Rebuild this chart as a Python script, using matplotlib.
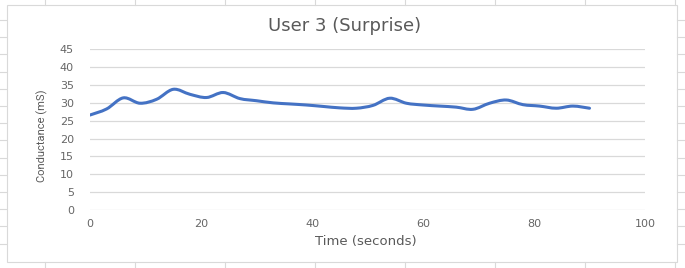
import matplotlib
matplotlib.use("Agg")
import matplotlib.pyplot as plt
from matplotlib.path import Path
from matplotlib.patches import PathPatch
from matplotlib.lines import Line2D
import numpy as np

# ---- data ----
time_s = [0, 3, 6, 9, 12, 15, 18, 21, 24, 27, 30, 33, 36, 39, 42, 45,
          48, 51, 54, 57, 60, 63, 66, 69, 72, 75, 78, 81, 84, 87, 90]
conductance = [26.6, 28.3, 31.4, 29.9, 31.0, 33.8, 32.4, 31.5, 32.9, 31.2,
               30.6, 30.0, 29.7, 29.4, 29.0, 28.6, 28.5, 29.3, 31.3, 29.9,
               29.4, 29.1, 28.8, 28.2, 29.9, 30.8, 29.5, 29.1, 28.5, 29.1, 28.5]
x_ticks = [0, 20, 40, 60, 80, 100]
y_ticks = [0, 5, 10, 15, 20, 25, 30, 35, 40, 45]
title = "User 3 (Surprise)"
x_label = "Time (seconds)"
y_label = "Conductance (mS)"

W, H = 685, 268
fig = plt.figure(figsize=(W / 100, H / 100), dpi=100)
fig.patch.set_facecolor("white")

# spreadsheet cell marks around the chart
cell_col = "#d9d9d9"
for xp in range(45, 685, 90):
    fig.add_artist(Line2D([xp / W, xp / W], [1, 1 - 5 / H], color=cell_col, lw=0.8))
    fig.add_artist(Line2D([xp / W, xp / W], [0, 6 / H], color=cell_col, lw=0.8))
for k in range(14):
    yp = 20 + 17.2 * k
    fig.add_artist(Line2D([0, 6 / W], [1 - yp / H, 1 - yp / H], color=cell_col, lw=0.8))
    fig.add_artist(Line2D([677 / W, 1], [1 - yp / H, 1 - yp / H], color=cell_col, lw=0.8))
# chart border
fig.add_artist(plt.Rectangle((6.5 / W, 1 - 262 / H), (677 - 6.5) / W, (262 - 5) / H,
                             fill=False, edgecolor="#d9d9d9", lw=0.8,
                             transform=fig.transFigure))

ax = fig.add_axes([90 / W, 1 - 210 / H, (645 - 90) / W, (210 - 49.3) / H])
ax.set_xlim(0, 100)
ax.set_ylim(0, 45)
ax.set_xticks(x_ticks)
ax.set_yticks(y_ticks)
for s in ax.spines.values():
    s.set_visible(False)
ax.yaxis.grid(True, color="#d9d9d9", lw=0.9)
ax.set_axisbelow(True)
ax.tick_params(length=0, labelsize=8, labelcolor="#666666")
ax.tick_params(axis="y", pad=11.5)
ax.tick_params(axis="x", pad=6.5)
for lab in ax.get_xticklabels() + ax.get_yticklabels():
    lab.set_family("DejaVu Sans")

# smoothed line (Catmull-Rom -> Bezier, as Excel's smoothed line)
x = np.array(time_s, float)
y = np.array(conductance, float)
n = len(x)
verts = [(x[0], y[0])]
codes = [Path.MOVETO]
for i in range(n - 1):
    p0 = np.array([x[max(i - 1, 0)], y[max(i - 1, 0)]])
    p1 = np.array([x[i], y[i]])
    p2 = np.array([x[i + 1], y[i + 1]])
    p3 = np.array([x[min(i + 2, n - 1)], y[min(i + 2, n - 1)]])
    c1 = p1 + (p2 - p0) / 6
    c2 = p2 - (p3 - p1) / 6
    verts += [tuple(c1), tuple(c2), tuple(p2)]
    codes += [Path.CURVE4] * 3
ax.add_patch(PathPatch(Path(verts, codes), facecolor="none", edgecolor="#4472C4",
                       lw=2.2, capstyle="round", joinstyle="round"))

fig.text(345 / W, 1 - 31 / H, title, ha="center", va="baseline",
         fontsize=13, color="#595959", family="DejaVu Sans")
fig.text(365.5 / W, 1 - 245.5 / H, x_label, ha="center", va="baseline",
         fontsize=9.5, color="#595959", family="DejaVu Sans")
fig.text(42 / W, 1 - 136 / H, y_label, ha="center", va="center", rotation=90,
         fontsize=8, color="#595959", family="Roboto")

fig.savefig("out.png", dpi=100, facecolor="white")
